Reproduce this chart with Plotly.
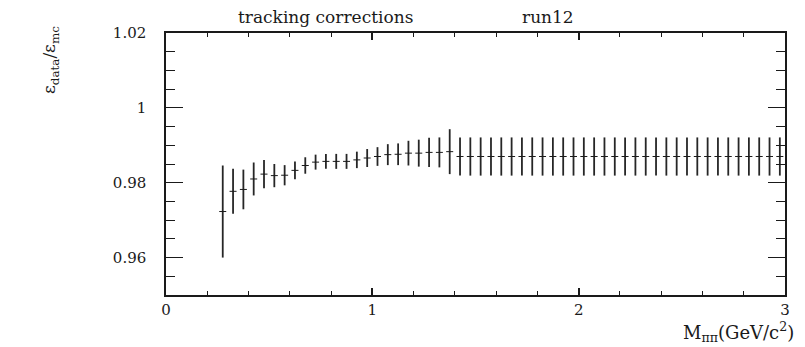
import plotly.graph_objects as go

# bin centres (GeV/c^2)
mass = [0.275, 0.325, 0.375, 0.425, 0.475, 0.525, 0.575, 0.625, 0.675, 0.725,
        0.775, 0.825, 0.875, 0.925, 0.975, 1.025, 1.075, 1.125, 1.175, 1.225,
        1.275, 1.325, 1.375, 1.425, 1.475, 1.525, 1.575, 1.625, 1.675, 1.725,
        1.775, 1.825, 1.875, 1.925, 1.975, 2.025, 2.075, 2.125, 2.175, 2.225,
        2.275, 2.325, 2.375, 2.425, 2.475, 2.525, 2.575, 2.625, 2.675, 2.725,
        2.775, 2.825, 2.875, 2.925, 2.975]

ratio = [0.9723, 0.9777, 0.9782, 0.9810, 0.9823, 0.9819, 0.9820, 0.9833, 0.9846, 0.9855,
         0.9857, 0.9857, 0.9857, 0.9861, 0.9866, 0.9870, 0.9875, 0.9876, 0.9879, 0.9879,
         0.9881, 0.9881, 0.9883, 0.9870, 0.9870, 0.9870, 0.9870, 0.9870, 0.9870, 0.9870,
         0.9870, 0.9870, 0.9870, 0.9870, 0.9870, 0.9870, 0.9870, 0.9870, 0.9870, 0.9870,
         0.9870, 0.9870, 0.9870, 0.9870, 0.9870, 0.9870, 0.9870, 0.9870, 0.9870, 0.9870,
         0.9870, 0.9870, 0.9870, 0.9870, 0.9870]

ratio_err = [0.0123, 0.0060, 0.0053, 0.0044, 0.0038, 0.0031, 0.0027, 0.0024, 0.0022, 0.0020,
             0.0020, 0.0020, 0.0020, 0.0022, 0.0024, 0.0025, 0.0028, 0.0029, 0.0033, 0.0036,
             0.0039, 0.0040, 0.0060, 0.0051, 0.0051, 0.0051, 0.0051, 0.0051, 0.0051, 0.0051,
             0.0051, 0.0051, 0.0051, 0.0051, 0.0051, 0.0051, 0.0051, 0.0051, 0.0051, 0.0051,
             0.0051, 0.0051, 0.0051, 0.0051, 0.0051, 0.0051, 0.0051, 0.0051, 0.0051, 0.0051,
             0.0051, 0.0051, 0.0051, 0.0051, 0.0051]

x_tickvals = [0, 1, 2, 3]
x_ticktext = ["0", "1", "2", "3"]
y_tickvals = [0.96, 0.98, 1.0, 1.02]
y_ticktext = ["0.96", "0.98", "1", "1.02"]

FONT = "DejaVu Serif, Liberation Serif, serif"
INK = "#1a1a1a"

# the page body adds an 8px offset; plot frame targets 166..785 x 33..295 in the window
OFF = 8
W, H = 805 - OFF, 347 - OFF
L, R, T, B = 166 - OFF, 20, 33 - OFF, H - (295 - OFF)
PW, PH = W - L - R, H - T - B

def px_x(x):  # window pixel -> paper fraction
    return (x - 166) / PW

def px_y(y):
    return 1 - (y - 33) / PH

fig = go.Figure()
fig.add_trace(go.Scatter(
    x=mass, y=ratio, mode="markers",
    marker=dict(symbol="line-ew-open", size=5, color=INK, line=dict(color=INK, width=1)),
    error_y=dict(type="data", array=ratio_err, visible=True, color="#262626",
                 thickness=1.8, width=0),
    showlegend=False,
))

fig.update_layout(
    width=W, height=H,
    margin=dict(l=L, r=R, t=T, b=B),
    paper_bgcolor="white", plot_bgcolor="white",
    font=dict(family=FONT, color=INK, size=15),
    xaxis=dict(range=[0, 3], showgrid=False, zeroline=False,
               showline=True, linecolor=INK, linewidth=1.5, mirror="ticks",
               ticks="inside", ticklen=7, tickwidth=1.5, tickcolor=INK,
               tickvals=x_tickvals, ticktext=x_ticktext,
               tickfont=dict(family=FONT, size=15), ticklabelstandoff=0,
               minor=dict(dtick=0.2, ticks="inside", ticklen=4, tickwidth=1.2,
                          tickcolor=INK, showgrid=False)),
    yaxis=dict(range=[0.95, 1.02], showgrid=False, zeroline=False,
               showline=True, linecolor=INK, linewidth=1.5, mirror="ticks",
               ticks="inside", ticklen=17, tickwidth=1.2, tickcolor=INK,
               tickvals=y_tickvals, ticktext=y_ticktext,
               tickfont=dict(family=FONT, size=15), ticklabelstandoff=15,
               minor=dict(dtick=0.005, tick0=0.95, ticks="inside", ticklen=9,
                          tickwidth=1.2, tickcolor=INK, showgrid=False)),
    annotations=[
        dict(text="tracking corrections", xref="paper", yref="paper",
             x=px_x(325), y=px_y(17), xanchor="center", yanchor="middle",
             showarrow=False, font=dict(family=FONT, size=17, color=INK)),
        dict(text="run12", xref="paper", yref="paper",
             x=px_x(548), y=px_y(17), xanchor="center", yanchor="middle",
             showarrow=False, font=dict(family=FONT, size=17, color=INK)),
        dict(text="ε<sub>data</sub>/ε<sub>mc</sub>", xref="paper", yref="paper",
             x=px_x(50), y=px_y(60), xanchor="center", yanchor="middle",
             textangle=-90, showarrow=False, font=dict(family=FONT, size=17, color=INK)),
        dict(text="M<sub>ππ</sub>(GeV/c<sup>2</sup>)", xref="paper", yref="paper",
             x=px_x(796), y=px_y(332), xanchor="right", yanchor="middle",
             showarrow=False, font=dict(family=FONT, size=18, color=INK)),
    ],
)

fig.write_html("out.html")
